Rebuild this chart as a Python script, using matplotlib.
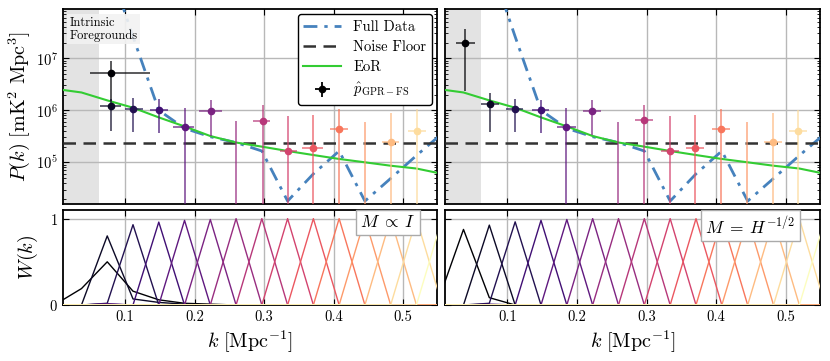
import numpy as np
import matplotlib
matplotlib.use("Agg")
import matplotlib.pyplot as plt
from matplotlib.ticker import FixedLocator, LogLocator, NullFormatter, FuncFormatter

plt.rcParams.update({
    "font.family": "serif",
    "font.serif": ["cmr10"],
    "mathtext.fontset": "cm",
    "axes.formatter.use_mathtext": True,
    "axes.unicode_minus": False,
    "xtick.direction": "in",
    "ytick.direction": "in",
    "xtick.top": True,
    "ytick.right": True,
})

# ---------------- data ----------------
k_grid = [0.0, 0.0371, 0.0742, 0.1113, 0.1484, 0.1855, 0.2226, 0.2597,
          0.2968, 0.3339, 0.3710, 0.4081, 0.4452, 0.4823, 0.5194, 0.5565]
full_data = [5e9, 3e9, 7.6e8, 2.6e7, 1.0e6, 4.5e5, 3.1e5, 2.4e5,
             1.65e5, 1.8e4, 6.0e4, 1.65e5, 1.8e4, 4.9e4, 1.35e5, 3.6e5]
eor = [2.57e6, 2.2e6, 1.55e6, 1.12e6, 7.3e5, 4.9e5, 3.2e5, 2.4e5,
       2.0e5, 1.65e5, 1.38e5, 1.16e5, 1.0e5, 8.6e4, 7.6e4, 6.0e4]
noise_floor = 2.3e5
foreground_kmax = 0.062

# left panel (M ∝ I) estimates
left_k = [0.079, 0.079, 0.1115, 0.149, 0.186, 0.223, 0.260, 0.298, 0.334, 0.371, 0.408, 0.445, 0.483, 0.520]
left_klo = [0.0497, 0.064, 0.100, 0.136, 0.169, 0.206, np.nan, 0.284, 0.323, 0.354, 0.395, np.nan, 0.470, 0.507]
left_khi = [0.136, 0.094, 0.125, 0.162, 0.199, 0.240, np.nan, 0.309, 0.348, 0.385, 0.421, np.nan, 0.495, 0.533]
left_P = [5.2e6, 1.21e6, 1.06e6, 1.0e6, 4.8e5, 9.7e5, np.nan, 6.3e5, 1.67e5, 1.91e5, 4.37e5, np.nan, 2.49e5, 4.06e5]
left_Phi = [9.0e6, 1.67e6, 1.7e6, 1.65e6, 1.09e6, 1.58e6, 6.2e5, 1.25e6, 7.8e5, 8.1e5, 1.06e6, 6.0e5, 8.8e5, 1.04e6]
left_Plo = [1.5e6, 4.05e5, 3.9e5, 3.6e5, 1e3, 3.2e5, 1e3, 1e3, 1e3, 1e3, 1e3, 1e3, 1e3, 1e3]

# right panel (M = H^-1/2) estimates
right_k = [0.039, 0.075, 0.1106, 0.148, 0.184, 0.2217, 0.2595, 0.2965, 0.333, 0.3697, 0.407, 0.444, 0.481, 0.518]
right_klo = [0.0263, 0.0618, 0.098, 0.135, 0.172, 0.209, np.nan, 0.283, 0.321, 0.357, 0.3946, np.nan, 0.468, 0.505]
right_khi = [0.0536, 0.0885, 0.123, 0.160, 0.198, 0.234, np.nan, 0.309, 0.346, 0.382, 0.420, np.nan, 0.494, 0.531]
right_P = [1.94e7, 1.3e6, 1.06e6, 1.0e6, 4.8e5, 9.7e5, np.nan, 6.5e5, 1.65e5, 1.91e5, 4.4e5, np.nan, 2.5e5, 4.06e5]
right_Phi = [3.6e7, 2.18e6, 1.68e6, 1.6e6, 1.1e6, 1.57e6, 6.0e5, 1.25e6, 7.8e5, 8.1e5, 1.06e6, 6.0e5, 8.8e5, 1.03e6]
right_Plo = [2.4e6, 3.77e5, 3.8e5, 3.6e5, 1e3, 3.4e5, 1e3, 1e3, 1e3, 1e3, 1e3, 1e3, 1e3, 1e3]

# window functions: height of bin i at its own k (k_grid[i+1])
left_peaks = [0.19, 0.80, 0.93, 0.96, 0.98, 0.99, 1.0, 1.0, 1.0, 1.0, 1.0, 1.0, 1.0, 1.0, 1.0]
right_peaks = [0.875, 0.925, 0.963, 0.98, 0.99, 1.0, 1.0, 1.0, 1.0, 1.0, 1.0, 1.0, 1.0, 1.0, 1.0]
# off-peak leakage (bin index, grid index, value)
left_leak = [(0, 0, 0.01), (0, 2, 0.50), (0, 3, 0.16), (0, 4, 0.06), (0, 5, 0.02), (0, 6, 0.01),
             (1, 3, 0.07), (1, 4, 0.03), (1, 5, 0.01),
             (2, 2, 0.02), (3, 2, 0.015), (4, 2, 0.01)]
right_leak = [(0, 0, 0.03), (0, 2, 0.085), (2, 2, 0.02), (3, 2, 0.01)]

n_bins = 15
colors = [plt.cm.magma(i / 14) for i in range(n_bins)]


def windows(peaks, leak):
    W = np.zeros((n_bins, len(k_grid)))
    for i, p in enumerate(peaks):
        W[i, i + 1] = p
    for i, j, v in leak:
        W[i, j] = v
    return W


# ---------------- figure ----------------
fig = plt.figure(figsize=(8.3, 3.61), dpi=100)
axL = fig.add_axes([0.0759, 0.4341, 0.4506, 0.5402])
axLb = fig.add_axes([0.0759, 0.1551, 0.4506, 0.2632], sharex=axL)
axR = fig.add_axes([0.5361, 0.4341, 0.4518, 0.5402], sharey=axL)
axRb = fig.add_axes([0.5361, 0.1551, 0.4518, 0.2632], sharex=axR, sharey=axLb)

blue = "#4682bd"
green = "#33cc33"
grid_kw = dict(color="#b8b8b8", lw=1.0)

for ax, ks, klo, khi, P, Plo, Phi in [
    (axL, left_k, left_klo, left_khi, left_P, left_Plo, left_Phi),
    (axR, right_k, right_klo, right_khi, right_P, right_Plo, right_Phi),
]:
    ax.set_yscale("log")
    ax.axvspan(0, foreground_kmax, color="#e3e3e3", zorder=0, lw=0)
    ax.grid(True, which="major", **grid_kw)
    ax.set_axisbelow(True)
    l1, = ax.plot(k_grid, full_data, color=blue, ls=(0, (5, 2.5, 1.2, 2.5)), lw=2.0, zorder=3)
    l2 = ax.axhline(noise_floor, color="#333333", ls=(0, (5, 3)), lw=1.8, zorder=3)
    l3, = ax.plot(k_grid, eor, color=green, lw=1.5, zorder=3)
    for i in range(len(ks)):
        c = colors[i]
        ax.vlines(ks[i], Plo[i], Phi[i], color=c, lw=1.3, alpha=0.7, zorder=4)
        if not np.isnan(P[i]):
            ax.hlines(P[i], klo[i], khi[i], color=c, lw=1.3, alpha=0.7, zorder=4)
            ax.plot(ks[i], P[i], "o", color=c, ms=4.5, zorder=5)
    ax.set_xlim(0.0105, 0.549)
    ax.set_ylim(1.56e4, 8.74e7)
    ax.yaxis.set_major_locator(LogLocator(base=10, numticks=10))
    ax.yaxis.set_minor_locator(LogLocator(base=10, subs=np.arange(2, 10), numticks=10))
    ax.yaxis.set_minor_formatter(NullFormatter())
    ax.xaxis.set_major_locator(FixedLocator([0.1, 0.2, 0.3, 0.4, 0.5]))
    ax.tick_params(axis="x", labelbottom=False)

axL.yaxis.set_major_formatter(FuncFormatter(lambda v, p: r"$10^{%d}$" % round(np.log10(v))))
axR.tick_params(axis="y", labelleft=False)

eb = axL.errorbar([np.nan], [np.nan], xerr=[[1], [1]], yerr=[[1], [1]], fmt="o", color="k", ms=4.5,
                  elinewidth=1.3, capsize=0)
leg = axL.legend([l1, l2, l3, eb], ["Full Data", "Noise Floor", "EoR", r"$\hat{p}_{\mathrm{GPR-FS}}$"],
                 loc="upper right", fontsize=10.5, frameon=True, fancybox=True, framealpha=1,
                 edgecolor="black", borderaxespad=0.35, handlelength=2.6, labelspacing=0.45)
leg.get_frame().set_linewidth(1.0)

axL.text(0.018, 0.962, "Intrinsic\nForegrounds", transform=axL.transAxes, ha="left", va="top",
         fontsize=9, linespacing=1.05, zorder=6,
         bbox=dict(boxstyle="square,pad=0.2", fc="#f2f2f2", ec="none", alpha=0.9))

axL.set_ylabel(r"$P(k)\ [\mathrm{mK}^2\ \mathrm{Mpc}^3]$", fontsize=14.5)
axL.yaxis.set_label_coords(-0.083, 0.5)

# window panels
for ax, peaks, leak, lab, tx in [
    (axLb, left_peaks, left_leak, r"$M\;\propto\;I$", 0.943),
    (axRb, right_peaks, right_leak, r"$M\;=\;H^{-1/2}$", 0.935),
]:
    W = windows(peaks, leak)
    for i in range(n_bins):
        ax.plot(k_grid, W[i], color=colors[i], lw=1.0, zorder=3)
    ax.set_ylim(0, 1.1)
    ax.yaxis.set_major_locator(FixedLocator([0, 1]))
    ax.xaxis.set_major_locator(FixedLocator([0.1, 0.2, 0.3, 0.4, 0.5]))
    ax.xaxis.set_major_formatter(FuncFormatter(lambda v, p: "%.1f" % v))
    ax.grid(True, which="major", **grid_kw)
    ax.set_axisbelow(True)
    ax.set_xlabel(r"$k\ [\mathrm{Mpc}^{-1}]$", fontsize=14.5)
    ax.xaxis.set_label_coords(0.5, -0.25)
    ax.text(tx, 0.955, lab, transform=ax.transAxes, ha="right", va="top", fontsize=12.5, zorder=6,
            bbox=dict(boxstyle="square,pad=0.25", fc="white", ec="#aaaaaa", lw=1.0))

axLb.set_ylabel(r"$W(k)$", fontsize=14.5)
axLb.yaxis.set_label_coords(-0.062, 0.5)
axRb.tick_params(axis="y", labelleft=False)

for ax in [axL, axR, axLb, axRb]:
    ax.tick_params(which="major", length=4, width=0.8, labelsize=10.5, colors="black")
    ax.tick_params(which="minor", length=2, width=0.6)
    for s in ax.spines.values():
        s.set_linewidth(1.3)

fig.savefig("out.png", dpi=100)
